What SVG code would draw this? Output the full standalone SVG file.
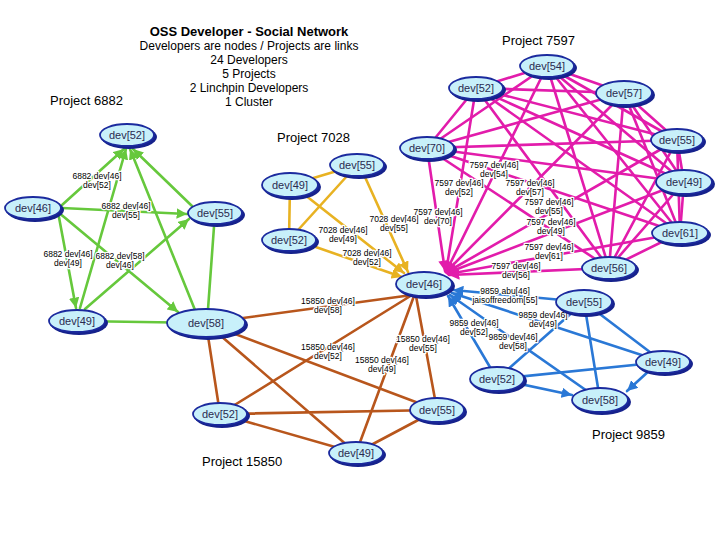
<svg xmlns="http://www.w3.org/2000/svg" width="720" height="540" viewBox="0 0 720 540">
<style>
.t{font-family:"Liberation Sans",Arial,sans-serif;fill:#000}
.h1{font-size:13px;font-weight:bold;text-anchor:middle}
.h2{font-size:12px;text-anchor:middle}
.pl{font-size:13px}
.sh{fill:#16228c}
.nd{fill:#c8f0fa;stroke:#1b2a9e;stroke-width:1.8}
.nt{font-family:"Liberation Sans",Arial,sans-serif;font-size:11px;fill:#2a2a50;text-anchor:middle}
.el{font-family:"Liberation Sans",Arial,sans-serif;font-size:8.5px;fill:#000;text-anchor:middle;stroke:#fff;stroke-width:2.5;paint-order:stroke;stroke-linejoin:round}
.e{fill:none;stroke-width:2.6;stroke-linecap:round}
.g{stroke:#66c83c}.o{stroke:#e8b222}.m{stroke:#e21cab}.b{stroke:#2a78d6}.r{stroke:#b8561c}
</style>
<defs>
<marker id="ag" viewBox="0 0 10 10" refX="10" refY="5" markerWidth="4" markerHeight="4" orient="auto"><path d="M0,0L10,5L0,10z" fill="#66c83c"/></marker>
<marker id="ao" viewBox="0 0 10 10" refX="10" refY="5" markerWidth="4" markerHeight="4" orient="auto"><path d="M0,0L10,5L0,10z" fill="#e8b222"/></marker>
<marker id="am" viewBox="0 0 10 10" refX="10" refY="5" markerWidth="4" markerHeight="4" orient="auto"><path d="M0,0L10,5L0,10z" fill="#e21cab"/></marker>
<marker id="ab" viewBox="0 0 10 10" refX="10" refY="5" markerWidth="4" markerHeight="4" orient="auto"><path d="M0,0L10,5L0,10z" fill="#2a78d6"/></marker>
</defs>
<rect width="720" height="540" fill="#fff"/>

<g id="title">
<text class="t h1" x="249" y="36">OSS Developer - Social Network</text>
<text class="t h2" x="249" y="50">Developers are nodes / Projects are links</text>
<text class="t h2" x="249" y="64">24 Developers</text>
<text class="t h2" x="249" y="78">5 Projects</text>
<text class="t h2" x="249" y="92">2 Linchpin Developers</text>
<text class="t h2" x="249" y="106">1 Cluster</text>
</g>
<g id="project-labels">
<text class="t pl" x="50" y="105">Project 6882</text>
<text class="t pl" x="277" y="142">Project 7028</text>
<text class="t pl" x="502" y="45">Project 7597</text>
<text class="t pl" x="592" y="439">Project 9859</text>
<text class="t pl" x="202" y="466">Project 15850</text>
</g>

<g id="connectors">
<!-- Project 6882 -->
<path class="e g" d="M62,205L124,149" marker-end="url(#ag)"/>
<path class="e g" d="M192,206L133,149" marker-end="url(#ag)"/>
<path class="e g" d="M80,308L126,149" marker-end="url(#ag)"/>
<path class="e g" d="M195,310L130,149" marker-end="url(#ag)"/>
<path class="e g" d="M62,208L187,214" marker-end="url(#ag)"/>
<path class="e g" d="M85,309L189,219" marker-end="url(#ag)"/>
<path class="e g" d="M58,212L76,308" marker-end="url(#ag)"/>
<path class="e g" d="M58,212L178,312" marker-end="url(#ag)"/>
<path class="e g" d="M215,213L207,323"/>
<path class="e g" d="M77,321L206,323"/>
<!-- Project 7028 -->
<path class="e o" d="M290,185L357,165"/>
<path class="e o" d="M290,185L289,240"/>
<path class="e o" d="M357,165L289,240"/>
<path class="e o" d="M305,195L404,273" marker-end="url(#ao)"/>
<path class="e o" d="M365,177L408,272" marker-end="url(#ao)"/>
<path class="e o" d="M310,245L402,277" marker-end="url(#ao)"/>
<!-- Project 7597 -->
<g class="e m">
<path d="M547,66L476,88M547,66L624,93M547,66L427,148M547,66L677,140M547,66L684,182M547,66L680,233M547,66L609,268"/>
<path d="M476,88L624,93M476,88L427,148M476,88L677,140M476,88L684,182M476,88L680,233M476,88L609,268"/>
<path d="M624,93L427,148M624,93L677,140M624,93L684,182M624,93L680,233M624,93L609,268"/>
<path d="M427,148L677,140M427,148L684,182M427,148L680,233M427,148L609,268"/>
<path d="M677,140L684,182M677,140L680,233M677,140L609,268"/>
<path d="M684,182L680,233M684,182L609,268"/>
<path d="M680,233L609,268"/>
</g>
<path class="e m" d="M547,66L446,272" marker-end="url(#am)"/>
<path class="e m" d="M476,88L446,272" marker-end="url(#am)"/>
<path class="e m" d="M624,93L446,272" marker-end="url(#am)"/>
<path class="e m" d="M427,148L445,271" marker-end="url(#am)"/>
<path class="e m" d="M677,140L447,272" marker-end="url(#am)"/>
<path class="e m" d="M684,182L447,273" marker-end="url(#am)"/>
<path class="e m" d="M680,233L448,274" marker-end="url(#am)"/>
<path class="e m" d="M609,268L449,275" marker-end="url(#am)"/>
<!-- Project 9859 -->
<path class="e b" d="M584,302L453,290" marker-end="url(#ab)"/>
<path class="e b" d="M663,362L452,293" marker-end="url(#ab)"/>
<path class="e b" d="M497,379L448,296" marker-end="url(#ab)"/>
<path class="e b" d="M600,400L450,295" marker-end="url(#ab)"/>
<path class="e b" d="M584,302L497,379M584,302L600,400M584,302L663,362M497,379L663,362"/>
<path class="e b" d="M497,379L572,395" marker-end="url(#ab)"/>
<path class="e b" d="M650,370L627,391" marker-end="url(#ab)"/>
<!-- Project 15850 -->
<path class="e r" d="M206,323L412,295M220,414L412,295M356,453L414,296M437,410L416,296"/>
<path class="e r" d="M206,323L220,414M206,323L437,410M206,323L356,453M220,414L437,410M220,414L356,453M437,410L356,453"/>

<g id="edge-labels">
<text class="el" x="97" y="179"><tspan x="97">6882 dev[46]</tspan><tspan x="97" dy="9">dev[52]</tspan></text>
<text class="el" x="126" y="209"><tspan x="126">6882 dev[46]</tspan><tspan x="126" dy="9">dev[55]</tspan></text>
<text class="el" x="68" y="257"><tspan x="68">6882 dev[46]</tspan><tspan x="68" dy="9">dev[49]</tspan></text>
<text class="el" x="120" y="259"><tspan x="120">6882 dev[58]</tspan><tspan x="120" dy="9">dev[46]</tspan></text>
<text class="el" x="343" y="233"><tspan x="343">7028 dev[46]</tspan><tspan x="343" dy="9">dev[49]</tspan></text>
<text class="el" x="394" y="222"><tspan x="394">7028 dev[46]</tspan><tspan x="394" dy="9">dev[55]</tspan></text>
<text class="el" x="367" y="256"><tspan x="367">7028 dev[46]</tspan><tspan x="367" dy="9">dev[52]</tspan></text>
<text class="el" x="459" y="186"><tspan x="459">7597 dev[46]</tspan><tspan x="459" dy="9">dev[52]</tspan></text>
<text class="el" x="494" y="168"><tspan x="494">7597 dev[46]</tspan><tspan x="494" dy="9">dev[54]</tspan></text>
<text class="el" x="530" y="186"><tspan x="530">7597 dev[46]</tspan><tspan x="530" dy="9">dev[57]</tspan></text>
<text class="el" x="549" y="205"><tspan x="549">7597 dev[46]</tspan><tspan x="549" dy="9">dev[55]</tspan></text>
<text class="el" x="551" y="225"><tspan x="551">7597 dev[46]</tspan><tspan x="551" dy="9">dev[49]</tspan></text>
<text class="el" x="549" y="250"><tspan x="549">7597 dev[46]</tspan><tspan x="549" dy="9">dev[61]</tspan></text>
<text class="el" x="516" y="269"><tspan x="516">7597 dev[46]</tspan><tspan x="516" dy="9">dev[56]</tspan></text>
<text class="el" x="438" y="215"><tspan x="438">7597 dev[46]</tspan><tspan x="438" dy="9">dev[70]</tspan></text>
<text class="el" x="505" y="294"><tspan x="505">9859 abu[46]</tspan><tspan x="505" dy="9">jaisoffreedom[55]</tspan></text>
<text class="el" x="543" y="318"><tspan x="543">9859 dev[46]</tspan><tspan x="543" dy="9">dev[49]</tspan></text>
<text class="el" x="474" y="326"><tspan x="474">9859 dev[46]</tspan><tspan x="474" dy="9">dev[52]</tspan></text>
<text class="el" x="513" y="340"><tspan x="513">9859 dev[46]</tspan><tspan x="513" dy="9">dev[58]</tspan></text>
<text class="el" x="328" y="304"><tspan x="328">15850 dev[46]</tspan><tspan x="328" dy="9">dev[58]</tspan></text>
<text class="el" x="328" y="350"><tspan x="328">15850 dev[46]</tspan><tspan x="328" dy="9">dev[52]</tspan></text>
<text class="el" x="382" y="363"><tspan x="382">15850 dev[46]</tspan><tspan x="382" dy="9">dev[49]</tspan></text>
<text class="el" x="423" y="342"><tspan x="423">15850 dev[46]</tspan><tspan x="423" dy="9">dev[55]</tspan></text>
</g>
</g>

<g id="nodes">
<g id="n6882-dev52"><ellipse class="sh" cx="129" cy="137" rx="28" ry="12"/><ellipse class="nd" cx="127" cy="135" rx="27" ry="11"/><text class="nt" x="127" y="139">dev[52]</text></g>
<g id="n6882-dev46"><ellipse class="sh" cx="35" cy="210" rx="29" ry="12"/><ellipse class="nd" cx="33" cy="208" rx="28" ry="11"/><text class="nt" x="33" y="212">dev[46]</text></g>
<g id="n6882-dev55"><ellipse class="sh" cx="217" cy="215" rx="28" ry="12"/><ellipse class="nd" cx="215" cy="213" rx="27" ry="11"/><text class="nt" x="215" y="217">dev[55]</text></g>
<g id="n6882-dev49"><ellipse class="sh" cx="79" cy="323" rx="29" ry="12"/><ellipse class="nd" cx="77" cy="321" rx="28" ry="11"/><text class="nt" x="77" y="325">dev[49]</text></g>
<g id="dev58-shared"><ellipse class="sh" cx="208" cy="325" rx="40" ry="15"/><ellipse class="nd" cx="206" cy="323" rx="39" ry="14"/><text class="nt" x="206" y="327">dev[58]</text></g>

<g id="n7028-dev55"><ellipse class="sh" cx="359" cy="167" rx="28" ry="12"/><ellipse class="nd" cx="357" cy="165" rx="27" ry="11"/><text class="nt" x="357" y="169">dev[55]</text></g>
<g id="n7028-dev49"><ellipse class="sh" cx="292" cy="187" rx="29" ry="13"/><ellipse class="nd" cx="290" cy="185" rx="28" ry="12"/><text class="nt" x="290" y="189">dev[49]</text></g>
<g id="n7028-dev52"><ellipse class="sh" cx="291" cy="242" rx="28" ry="12"/><ellipse class="nd" cx="289" cy="240" rx="27" ry="11"/><text class="nt" x="289" y="244">dev[52]</text></g>
<g id="dev46-linchpin"><ellipse class="sh" cx="426" cy="286" rx="29" ry="13"/><ellipse class="nd" cx="424" cy="284" rx="28" ry="12"/><text class="nt" x="424" y="288">dev[46]</text></g>

<g id="n7597-dev54"><ellipse class="sh" cx="549" cy="68" rx="28" ry="12"/><ellipse class="nd" cx="547" cy="66" rx="27" ry="11"/><text class="nt" x="547" y="70">dev[54]</text></g>
<g id="n7597-dev52"><ellipse class="sh" cx="478" cy="90" rx="28" ry="12"/><ellipse class="nd" cx="476" cy="88" rx="27" ry="11"/><text class="nt" x="476" y="92">dev[52]</text></g>
<g id="n7597-dev57"><ellipse class="sh" cx="626" cy="95" rx="29" ry="13"/><ellipse class="nd" cx="624" cy="93" rx="28" ry="12"/><text class="nt" x="624" y="97">dev[57]</text></g>
<g id="n7597-dev70"><ellipse class="sh" cx="429" cy="150" rx="28" ry="12"/><ellipse class="nd" cx="427" cy="148" rx="27" ry="11"/><text class="nt" x="427" y="152">dev[70]</text></g>
<g id="n7597-dev55"><ellipse class="sh" cx="679" cy="142" rx="27" ry="12"/><ellipse class="nd" cx="677" cy="140" rx="26" ry="11"/><text class="nt" x="677" y="144">dev[55]</text></g>
<g id="n7597-dev49"><ellipse class="sh" cx="686" cy="184" rx="29" ry="13"/><ellipse class="nd" cx="684" cy="182" rx="28" ry="12"/><text class="nt" x="684" y="186">dev[49]</text></g>
<g id="n7597-dev61"><ellipse class="sh" cx="682" cy="235" rx="29" ry="12"/><ellipse class="nd" cx="680" cy="233" rx="28" ry="11"/><text class="nt" x="680" y="237">dev[61]</text></g>
<g id="n7597-dev56"><ellipse class="sh" cx="611" cy="270" rx="28" ry="12"/><ellipse class="nd" cx="609" cy="268" rx="27" ry="11"/><text class="nt" x="609" y="272">dev[56]</text></g>

<g id="n9859-dev55"><ellipse class="sh" cx="586" cy="304" rx="29" ry="13"/><ellipse class="nd" cx="584" cy="302" rx="28" ry="12"/><text class="nt" x="584" y="306">dev[55]</text></g>
<g id="n9859-dev49"><ellipse class="sh" cx="665" cy="364" rx="28" ry="12"/><ellipse class="nd" cx="663" cy="362" rx="27" ry="11"/><text class="nt" x="663" y="366">dev[49]</text></g>
<g id="n9859-dev52"><ellipse class="sh" cx="499" cy="381" rx="28" ry="13"/><ellipse class="nd" cx="497" cy="379" rx="27" ry="12"/><text class="nt" x="497" y="383">dev[52]</text></g>
<g id="n9859-dev58"><ellipse class="sh" cx="602" cy="402" rx="29" ry="13"/><ellipse class="nd" cx="600" cy="400" rx="28" ry="12"/><text class="nt" x="600" y="404">dev[58]</text></g>

<g id="n15850-dev52"><ellipse class="sh" cx="222" cy="416" rx="28" ry="12"/><ellipse class="nd" cx="220" cy="414" rx="27" ry="11"/><text class="nt" x="220" y="418">dev[52]</text></g>
<g id="n15850-dev55"><ellipse class="sh" cx="439" cy="412" rx="28" ry="13"/><ellipse class="nd" cx="437" cy="410" rx="27" ry="12"/><text class="nt" x="437" y="414">dev[55]</text></g>
<g id="n15850-dev49"><ellipse class="sh" cx="358" cy="455" rx="28" ry="12"/><ellipse class="nd" cx="356" cy="453" rx="27" ry="11"/><text class="nt" x="356" y="457">dev[49]</text></g>
</g>
</svg>
